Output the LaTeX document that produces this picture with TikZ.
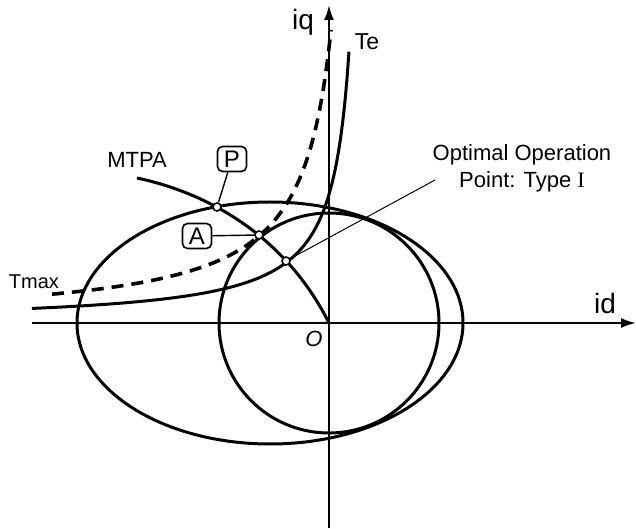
\documentclass[tikz,border=0pt]{standalone}
\usepackage{fontspec}
\setmainfont{Liberation Sans}
\newfontfamily\romanI{Liberation Serif}
\usetikzlibrary{arrows.meta,positioning}

\begin{document}
\begin{tikzpicture}[x=0.5pt,y=0.5pt,
  crv/.style={line width=1.5pt},
  ax/.style={line width=1.1pt,-{Latex[length=7.5pt,width=5pt]}},
  lbl/.style={font=\fontsize{11}{13.5}\selectfont,inner sep=0pt},
  axlbl/.style={font=\fontsize{14}{16}\selectfont,inner sep=0pt},
  tag/.style={draw,rounded corners=2.5pt,line width=0.8pt,minimum width=14.5pt,
              minimum height=12.5pt,inner sep=0pt,font=\fontsize{12}{14}\selectfont},
  dot/.style={circle,draw,fill=white,line width=0.8pt,inner sep=0pt,minimum size=4pt},
  lead/.style={line width=0.7pt}]
\useasboundingbox (-329,-206) rectangle (307,323);
% axes
\coordinate (O) at (0,0);
\coordinate (idL) at (-297,0);  \coordinate (idR) at (307,0);
\coordinate (iqB) at (0,-205);  \coordinate (iqT) at (0,318);
\draw[ax] (idL) -- (idR);
\draw[ax] (iqB) -- (iqT);
\node (id) [axlbl] at (276,20) {id};
\node (iq) [axlbl] at (-26,301) {iq};
\node (o)  [lbl,font=\fontsize{11}{13}\itshape] at (-15,-16) {O};
% current limit ellipse and voltage circle
\draw[crv] (-59,0) ellipse [x radius=193,y radius=121];
\draw[crv] (O) circle [radius=110];
% torque curves
\draw[crv] plot[domain=-297:20,samples=150] (\x,{4884/(38-\x)});
\draw[crv,line width=1.8pt,dash pattern=on 6pt off 4pt]
  plot[domain=-277:2,samples=150] (\x,{8912/(32.4-\x)});
\node (te)   [lbl,font=\fontsize{11.5}{13}\selectfont] at (38,281) {Te};
\node (tmax) [lbl,font=\fontsize{10}{12}\selectfont] at (-295,41) {Tmax};
% MTPA
\coordinate (mtpaS) at (-192,145);
\draw[crv] (mtpaS) .. controls (-112,128) and (-40,80) .. (O);
\node (mtpa) [lbl] at (-192,163) {MTPA};
% operating points
\node (P)   [dot] at (-112,116) {};
\node (A)   [dot] at (-70,88) {};
\node (opt) [dot] at (-43,62) {};
\node (tagP) [tag] at (-97,164) {P};
\node (tagA) [tag] at (-132,87) {A};
\draw[lead] (tagP) -- (P);
\draw[lead] (tagA) -- (A);
\node (opl) [lbl,align=center] at (193,155)
      {Optimal Operation\\ Point: Type {\romanI I}};
\coordinate (oplEnd) at (106,143);
\draw[line width=0.5pt] (opt) -- (oplEnd);
\end{tikzpicture}
\end{document}
